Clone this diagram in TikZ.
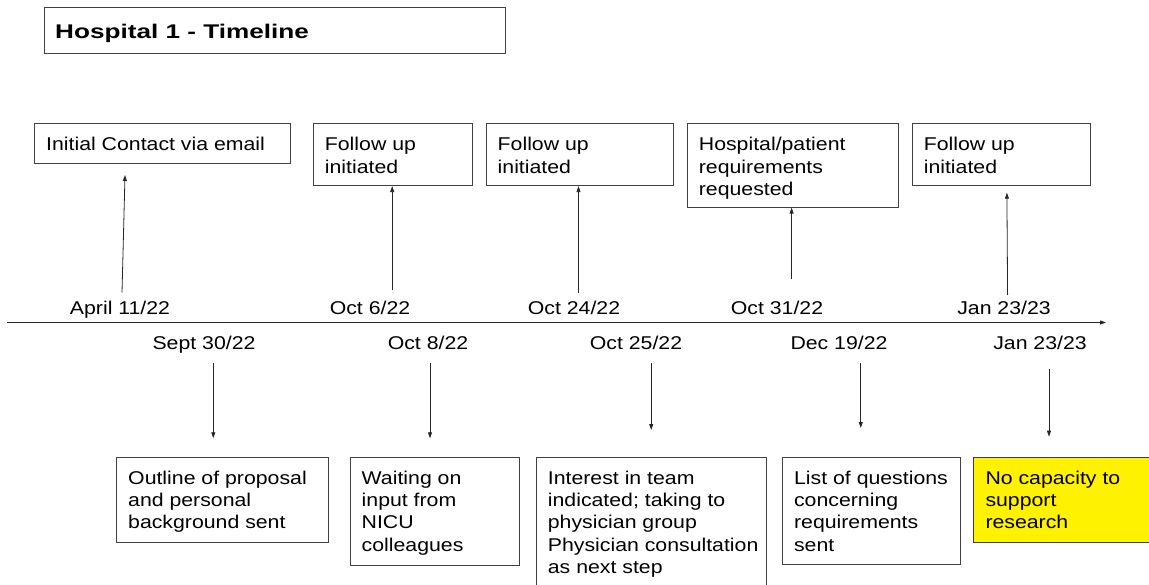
\documentclass[tikz,border=0pt]{standalone}
\usepackage{fontspec}
\setmainfont{Liberation Sans}[FakeStretch=1.15]
\newfontfamily\titlefont{Liberation Sans}[FakeStretch=1.32]
\usetikzlibrary{arrows.meta}
\begin{document}
\begin{tikzpicture}[x=1pt,y=-1pt,
  box/.style={draw=black!75, line width=0.9pt, anchor=north west, inner sep=0pt},
  txt/.style={anchor=north west, align=left, inner sep=0pt, font=\fontsize{18.5}{22.3}\selectfont},
  datelbl/.style={anchor=base, inner sep=0pt, font=\fontsize{18.5}{22}\selectfont},
  arr/.style={draw=black!85, line width=0.8pt, -{Triangle[length=6pt,width=4pt]}}]
\useasboundingbox (0,0) rectangle (1149,585);

% title
\node[box, minimum width=461pt, minimum height=46pt] (tb) at (44,7.5) {};
\node[anchor=north west, inner sep=0pt, font=\titlefont\bfseries\fontsize{19.8}{22}\selectfont] (tt) at ([xshift=11pt,yshift=-16.5pt]tb.north west) {Hospital 1 - Timeline};

% timeline
\coordinate (tl0) at (7,322.5);
\coordinate (tl1) at (1106,322.5);
\draw[arr] (tl0) -- (tl1);

% top boxes
\node[box, minimum width=256pt, minimum height=40.5pt] (b1) at (34,122.7) {};
\node[box, minimum width=159pt, minimum height=62.5pt] (b2) at (312.7,122.7) {};
\node[box, minimum width=187pt, minimum height=62.5pt] (b3) at (485.5,122.7) {};
\node[box, minimum width=211pt, minimum height=84pt] (b4) at (686.7,122.7) {};
\node[box, minimum width=178pt, minimum height=62.5pt] (b5) at (911.6,122.7) {};

\node[txt] (t1) at ([xshift=12pt,yshift=-14.5pt]b1.north west) {Initial Contact via email};
\node[txt] (t2) at ([xshift=12pt,yshift=-14.5pt]b2.north west) {Follow up\\initiated};
\node[txt] (t3) at ([xshift=12pt,yshift=-14.5pt]b3.north west) {Follow up\\initiated};
\node[txt] (t4) at ([xshift=12pt,yshift=-14.5pt]b4.north west) {Hospital/patient\\requirements\\requested};
\node[txt] (t5) at ([xshift=12pt,yshift=-14.5pt]b5.north west) {Follow up\\initiated};

% top dates
\node[datelbl] (d1) at (120,315) {April 11/22};
\node[datelbl] (d2) at (370,315) {Oct 6/22};
\node[datelbl] (d3) at (574,315) {Oct 24/22};
\node[datelbl] (d4) at (777,315) {Oct 31/22};
\node[datelbl] (d5) at (1004,315) {Jan 23/23};

% top arrows
\coordinate (u1s) at (122,292.7);
\coordinate (u1e) at (125,175);
\coordinate (u2s) at (392.2,290);
\coordinate (u3s) at (578.5,292.7);
\coordinate (u4s) at (791.6,279.3);
\coordinate (u5s) at (1007.6,295);
\coordinate (u5e) at (1006.9,192.7);
\draw[arr] (u1s) -- (u1e);
\draw[arr] (u2s) -- (u2s |- b2.south);
\draw[arr] (u3s) -- (u3s |- b3.south);
\draw[arr] (u4s) -- (u4s |- b4.south);
\draw[arr] (u5s) -- (u5e);

% bottom dates
\node[datelbl] (e1) at (204,349) {Sept 30/22};
\node[datelbl] (e2) at (428,349) {Oct 8/22};
\node[datelbl] (e3) at (636,349) {Oct 25/22};
\node[datelbl] (e4) at (839,349) {Dec 19/22};
\node[datelbl] (e5) at (1040,349) {Jan 23/23};

% bottom boxes
\node[box, minimum width=211.7pt, minimum height=85pt] (c1) at (116,456.7) {};
\node[box, minimum width=169.5pt, minimum height=108.3pt] (c2) at (349.5,456.7) {};
\node[box, minimum width=230pt, minimum height=140pt] (c3) at (535.7,456.7) {};
\node[box, minimum width=177.6pt, minimum height=107.6pt] (c4) at (781.9,456.7) {};
\node[box, fill=yellow, minimum width=190pt, minimum height=85pt] (c5) at (973.3,456.7) {};

\node[txt] (s1) at ([xshift=12pt,yshift=-14pt]c1.north west) {Outline of proposal\\and personal\\background sent};
\node[txt] (s2) at ([xshift=12pt,yshift=-14pt]c2.north west) {Waiting on\\input from\\NICU\\colleagues};
\node[txt] (s3) at ([xshift=12pt,yshift=-14pt]c3.north west) {Interest in team\\indicated; taking to\\physician group\\Physician consultation\\as next step};
\node[txt] (s4) at ([xshift=12pt,yshift=-14pt]c4.north west) {List of questions\\concerning\\requirements\\sent};
\node[txt] (s5) at ([xshift=12pt,yshift=-14pt]c5.north west) {No capacity to\\support\\research};

% bottom arrows
\coordinate (v1s) at (213.3,363.3);
\coordinate (v1e) at (213.3,438.3);
\coordinate (v2s) at (430,363.3);
\coordinate (v2e) at (430,438.3);
\coordinate (v3s) at (651.2,363.3);
\coordinate (v3e) at (651.2,430);
\coordinate (v4s) at (860.8,363.3);
\coordinate (v4e) at (860.8,428);
\coordinate (v5s) at (1049,369.3);
\coordinate (v5e) at (1049,436.7);
\draw[arr] (v1s) -- (v1e);
\draw[arr] (v2s) -- (v2e);
\draw[arr] (v3s) -- (v3e);
\draw[arr] (v4s) -- (v4e);
\draw[arr] (v5s) -- (v5e);
\end{tikzpicture}
\end{document}
